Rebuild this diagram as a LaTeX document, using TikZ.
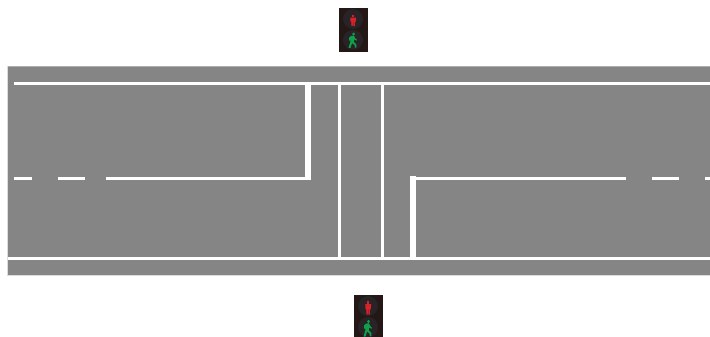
\documentclass[tikz,border=0pt]{standalone}
\definecolor{roadgrey}{HTML}{858585}
\definecolor{roadedge}{HTML}{ADADAD}
\definecolor{roadfaint}{HTML}{DCDCDC}
\definecolor{housing}{HTML}{231815}
\definecolor{lens}{HTML}{282326}
\definecolor{sigred}{HTML}{D8222A}
\definecolor{siggreen}{HTML}{0FA04A}
\tikzset{
  markline/.style={fill=white,draw=none},
  signalbox/.pic={
    \fill[housing] (-14.5,-12) rectangle (14.5,32);
    \fill[lens] (-0.5,-1) circle (10);
    \fill[lens] (-0.5,20) circle (10);
  },
  redfigure/.pic={
    \fill[sigred] (-1.4,-5) rectangle (0.8,-2.8);
    \fill[sigred] (-3.2,-2.4) -- (2.6,-2.4) -- (2.4,1.5) -- (1.6,1.5) -- (1.3,6) -- (0,6) -- (-0.2,2) -- (-0.6,2) -- (-0.8,6) -- (-2,6) -- (-2.3,1.5) -- (-3,1.5) -- cycle;
  },
  greenfigure/.pic={
    \fill[siggreen] (0,-6.4) circle (1.5);
    \fill[siggreen] (-2.6,-4.4) -- (0.6,-4.8) -- (1.6,-2.2) -- (3.6,-0.6) -- (3,0.2) -- (0.6,-1) -- (0.4,1.6) -- (2.8,4) -- (2.8,7.2) -- (1.4,7.2) -- (1,4.6) -- (-1.4,2.8) -- (-3,7.4) -- (-5,7.4) -- (-3.2,1.6) -- (-3.2,0) -- (-4.6,0.2) -- (-4.4,-2.6) -- cycle;
  }
}
\begin{document}
\begin{tikzpicture}[x=0.75pt,y=-0.75pt]
\useasboundingbox (0,0) rectangle (710,336);
\fill[white] (0,0) rectangle (710,336);
% road
\fill[roadfaint] (7,66) rectangle (710,276);
\fill[roadedge] (8,66) rectangle (710,67);
\fill[roadgrey] (8,67) rectangle (710,275);
% edges of the carriageway
\fill[markline] (14,82) rectangle (710,85);
\fill[markline] (8,257) rectangle (710,260);
% left centre line
\fill[markline] (14,177) rectangle (32,180);
\fill[markline] (58,177) rectangle (85,180);
\fill[markline] (106,177) rectangle (311,180);
\fill[markline] (305,85) rectangle (311,180);
% crossing
\fill[markline] (338,85) rectangle (341,257);
\fill[markline] (381,85) rectangle (384,257);
% right centre line
\fill[markline] (410,176) rectangle (416,257);
\fill[markline] (416,177) rectangle (626,180);
\fill[markline] (652,177) rectangle (679,180);
\fill[markline] (705,177) rectangle (710,180);
% signals
\begin{scope}
\clip (0,0) rectangle (710,336);
\pic at (353.5,20) {signalbox};
\pic at (353.5,20) {redfigure};
\pic at (353.5,40.4) {greenfigure};
\pic at (368.5,307) {signalbox};
\pic[yscale=1.25] at (368.5,307) {redfigure};
\pic[yscale=1.1] at (368.5,328.5) {greenfigure};
\end{scope}
\end{tikzpicture}
\end{document}
